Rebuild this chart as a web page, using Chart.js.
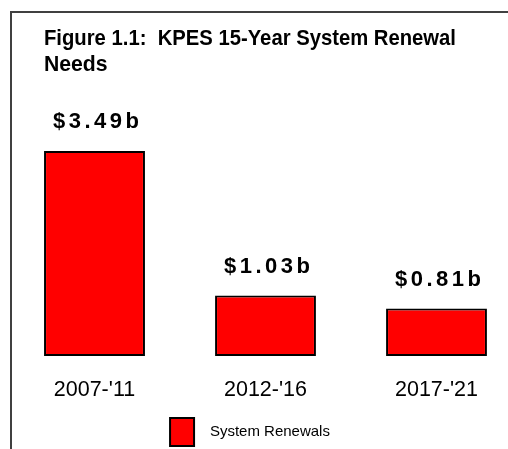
<!DOCTYPE html>
<html>
<head>
<meta charset="utf-8">
<script src="https://cdn.jsdelivr.net/npm/chart.js@4"></script>
<style>
  html, body { margin: 0; padding: 0; background: #ffffff; overflow: hidden; }
  #wrap { position: relative; width: 508px; height: 449px; }
  canvas { display: block; }
</style>
</head>
<body>
<div id="wrap"><canvas id="chart" width="508" height="449"></canvas></div>
<script>
// Five-year planning periods and renewal needs ($ billions)
const periods = ["2007-'11", "2012-'16", "2017-'21"];
const renewalNeeds = [3.49, 1.03, 0.81];
const seriesName = 'System Renewals';
const titleLines = ['Figure 1.1:  KPES 15-Year System Renewal', 'Needs'];
const valueRange = [0, 4];

const FONT = '"Liberation Sans", Arial, Helvetica, sans-serif';

// Thin frame along the top and left edges
const framePlugin = {
  id: 'frame',
  beforeDraw(chart) {
    const ctx = chart.ctx;
    ctx.save();
    ctx.strokeStyle = '#404040';
    ctx.lineWidth = 2;
    ctx.beginPath();
    ctx.moveTo(11, chart.height);
    ctx.lineTo(11, 12);
    ctx.lineTo(chart.width, 12);
    ctx.stroke();
    ctx.restore();
  }
};

// Dollar amount written above each bar
const valueLabelPlugin = {
  id: 'valueLabels',
  afterDatasetsDraw(chart) {
    const ctx = chart.ctx;
    const ds = chart.data.datasets[0];
    const meta = chart.getDatasetMeta(0);
    const spacing = 3.5;
    ctx.save();
    ctx.font = 'bold 22px ' + FONT;
    ctx.fillStyle = '#000000';
    ctx.textAlign = 'center';
    ctx.textBaseline = 'alphabetic';
    if ('letterSpacing' in ctx) ctx.letterSpacing = spacing + 'px';
    meta.data.forEach((bar, i) => {
      const text = '$' + ds.data[i].toFixed(2) + 'b';
      ctx.fillText(text, bar.x + spacing / 2 + 1.5, bar.y - 22.5);
    });
    ctx.restore();
  }
};

const defaultLegendLabels = Chart.defaults.plugins.legend.labels.generateLabels;

new Chart(document.getElementById('chart'), {
  type: 'bar',
  data: {
    labels: periods,
    datasets: [{
      label: seriesName,
      data: renewalNeeds,
      backgroundColor: '#ff0000',
      borderColor: '#000000',
      borderWidth: 2,
      borderSkipped: false,
      categoryPercentage: 1,
      barPercentage: 0.59,
      clip: false
    }]
  },
  options: {
    responsive: false,
    animation: false,
    events: [],
    layout: { padding: { left: 44, right: 52, top: 0, bottom: -7 } },
    scales: {
      x: {
        type: 'category',
        offset: false,
        grid: { display: false, drawTicks: false },
        border: { display: false },
        ticks: {
          padding: 21,
          autoSkip: false,
          maxRotation: 0,
          color: '#000000',
          font: { family: FONT, size: 21.5 }
        },
        afterFit(scale) { scale.height = 45; }
      },
      y: {
        min: valueRange[0],
        max: valueRange[1],
        grid: { display: false, drawTicks: false },
        border: { display: false },
        ticks: { display: false },
        afterFit(scale) { scale.width = 50.5; }
      },
      yRight: {
        type: 'linear',
        position: 'right',
        grid: { display: false, drawTicks: false },
        border: { display: false },
        ticks: { display: false },
        afterFit(scale) { scale.width = 19.5; }
      }
    },
    plugins: {
      title: {
        display: true,
        text: titleLines,
        align: 'start',
        color: '#000000',
        font: { family: FONT, size: 21.2, weight: 'bold', lineHeight: '26px' },
        padding: { top: 26, bottom: 43 }
      },
      legend: {
        display: true,
        position: 'bottom',
        labels: {
          boxWidth: 24,
          boxHeight: 28,
          padding: 17,
          color: '#000000',
          font: { family: FONT, size: 15 },
          // a little extra room between the swatch and its caption
          generateLabels(chart) {
            return defaultLegendLabels(chart).map(item => Object.assign(item, { text: '  ' + item.text }));
          }
        }
      },
      tooltip: { enabled: false }
    }
  },
  plugins: [framePlugin, valueLabelPlugin]
});
</script>
</body>
</html>
